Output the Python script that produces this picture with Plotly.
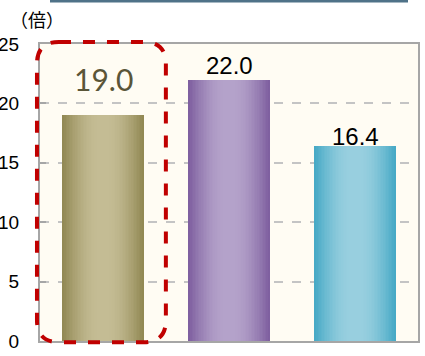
import math
import plotly.graph_objects as go

categories = ["A", "B", "C"]
values = [19.0, 22.0, 16.4]
labels = ["19.0", "22.0", "16.4"]
dark_colors = [(146, 137, 84), (127, 96, 160), (72, 170, 198)]
light_colors = [(196, 188, 148), (180, 162, 202), (152, 207, 223)]
label_colors = ["#5a5538", "#000000", "#000000"]
label_sizes = [30, 24, 24]
label_shift = [16, -1, -6]
label_fonts = ["Lato", "Liberation Sans", "Liberation Sans"]
y_ticks = [0, 5, 10, 15, 20, 25]

xs = list(range(len(categories)))
W = 0.643
N = 26

def mix(a, b, t):
    return "rgb(%d,%d,%d)" % tuple(round(a[i] + (b[i] - a[i]) * t) for i in range(3))

fig = go.Figure()
for k in range(N):
    f = 1 - k / N
    d = (1 - f) / 2
    t = min(1.0, d / 0.45)
    t = math.sin(t * math.pi / 2)
    cols = [mix(dark_colors[i], light_colors[i], t) for i in range(len(xs))]
    fig.add_trace(go.Bar(x=xs, y=values, width=W * f, marker=dict(color=cols, line=dict(width=0)),
                         showlegend=False, hoverinfo="skip"))
    if f < 0.12:
        break

for i in xs:
    fig.add_annotation(x=i, y=values[i], text=labels[i], showarrow=False, yanchor="bottom",
                       yshift=label_shift[i],
                       font=dict(size=label_sizes[i], color=label_colors[i], family=label_fonts[i]))

# unit label
fig.add_annotation(xref="paper", yref="paper", x=(37 - 40) / 378, y=(341 - 19) / 297, text="（倍）",
                   showarrow=False, xanchor="center", yanchor="middle",
                   font=dict(size=18, color="#000", family="Noto Sans CJK JP"))

# rounded dashed highlight box (paper coords)
x0, x1, y0, y1 = -0.008, 0.333, -0.004, 1.007
rx, ry = 22 / 378, 22 / 297
path = (f"M {x0+rx},{y1} L {x1-rx},{y1} Q {x1},{y1} {x1},{y1-ry} "
        f"L {x1},{y0+ry} Q {x1},{y0} {x1-rx},{y0} L {x0+rx},{y0} "
        f"Q {x0},{y0} {x0},{y0+ry} L {x0},{y1-ry} Q {x0},{y1} {x0+rx},{y1} Z")
fig.add_shape(type="path", xref="paper", yref="paper", path=path,
              line=dict(color="#c00000", width=4, dash="dash"), layer="above")

# top decorative strip
fig.add_shape(type="rect", xref="paper", yref="paper", x0=(50 - 40) / 378, x1=(408 - 40) / 378,
              y0=(341 - 2.5) / 297, y1=(341 + 2) / 297, line=dict(width=0), fillcolor="#4f7288")

fig.update_layout(
    width=425, height=356,
    margin=dict(l=40, r=7, t=44, b=15, autoexpand=False),
    barmode="overlay",
    bargap=0,
    plot_bgcolor="#fffcf3",
    paper_bgcolor="#ffffff",
    showlegend=False,
    font=dict(family="Liberation Sans", color="#000"),
)
fig.update_xaxes(range=[-0.5, 2.5], showticklabels=False, showgrid=False, zeroline=False,
                 showline=True, linecolor="#a6a6a6", linewidth=2, mirror=True, ticks="",
                 automargin=False)
fig.update_yaxes(range=[0, 25], tickvals=y_ticks, showgrid=True, gridcolor="#c4c4c4", griddash="dash",
                 gridwidth=1.5, zeroline=False, showline=True, linecolor="#a6a6a6", linewidth=2,
                 mirror=True, ticks="inside", ticklen=6, tickcolor="#a6a6a6", tickwidth=2,
                 tickfont=dict(size=19, color="#000", family="Liberation Sans"),
                 ticklabelstandoff=15, automargin=False)

fig.write_html("out.html")
